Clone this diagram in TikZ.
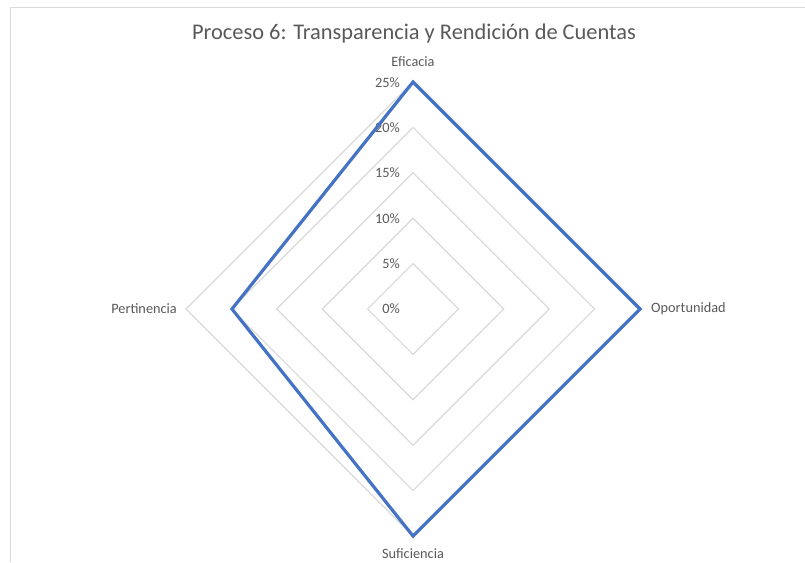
\documentclass[tikz,border=0pt]{standalone}
\usepackage{fontspec}
\setmainfont{Carlito}
\definecolor{gridgray}{HTML}{D9D9D9}
\definecolor{labelgray}{HTML}{595959}
\definecolor{seriesblue}{HTML}{4472C4}
\begin{document}
\begin{tikzpicture}
[x=1pt,y=-1pt,
  ringdecorate/.style={draw=gridgray,line width=1.2pt},
  seriesdecorate/.style={draw=seriesblue,line width=3.2pt,line join=miter},
  axislabel/.style={text=labelgray,font=\fontsize{14.3}{16}\selectfont,inner sep=0pt},
  ticklabel/.style={axislabel,anchor=east}]
\useasboundingbox (0,0) rectangle (805,562);
%% chart frame
\draw[gridgray] (10,562) -- (10,7.5) -- (805,7.5);
%% title
\node (title) at (414,34) [text=labelgray,font=\fontsize{22.4}{26}\selectfont,inner sep=0pt] {Proceso 6: Transparencia y Rendición de Cuentas};
%% rings of the grid
\foreach \r in {1,...,5} {
  \draw[ringdecorate] (413,{309-45.4*\r}) -- ({413+45.4*\r},309)
    -- (413,{309+45.4*\r}) -- ({413-45.4*\r},309) -- cycle;
}
%% tick labels
\foreach \v/\y in {0/309, 5/264, 10/219, 15/173, 20/128, 25/83} {
  \node (tick\v) at (400,\y) [ticklabel] {\v\%};
}
%% axis labels
\node (eficacia) at (413,62) [axislabel] {Eficacia};
\node (oportunidad) at (651,309) [axislabel,anchor=west] {Oportunidad};
\node (suficiencia) at (413,554) [axislabel] {Suficiencia};
\node (pertinencia) at (177,309) [axislabel,anchor=east] {Pertinencia};
%% data points
\foreach \pointname/\x/\y in {pEficacia/413/82, pOportunidad/640/309, pSuficiencia/413/536, pPertinencia/232/309} {
  \coordinate (\pointname) at (\x,\y);
}
\draw[seriesdecorate] (pEficacia) -- (pOportunidad) -- (pSuficiencia) -- (pPertinencia) -- cycle;
\end{tikzpicture}
\end{document}
